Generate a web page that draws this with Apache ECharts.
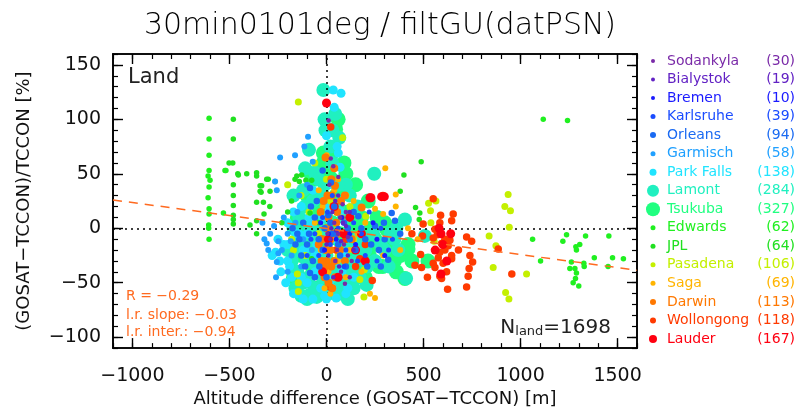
<!DOCTYPE html>
<html>
<head>
<meta charset="utf-8">
<script src="https://cdn.jsdelivr.net/npm/echarts@6/dist/echarts.min.js"></script>
<style>
  html, body { margin: 0; padding: 0; background: #fff; }
  #chart { width: 797px; height: 413px; }
</style>
</head>
<body>
<div id="chart"></div>
<script>
// stations and their counts (legend)
const stations = ['Sodankyla', 'Bialystok', 'Bremen', 'Karlsruhe', 'Orleans', 'Garmisch', 'Park Falls', 'Lamont',
  'Tsukuba', 'Edwards', 'JPL', 'Pasadena', 'Saga', 'Darwin', 'Wollongong', 'Lauder'];
const counts = [30, 19, 10, 39, 94, 58, 138, 284, 327, 62, 64, 106, 69, 113, 118, 167];

const xTicks = [-1000, -500, 0, 500, 1000, 1500];
const yTicks = [-100, -50, 0, 50, 100, 150];

// [altitude difference m, relative difference %]
const sodankyla = [[11,99],[22,64],[35,57],[61,47],[83,22],[40,5],[60,-5],[90,-15],[55,-20],[20,-10],[110,-8],[95,-51],
  [130,-30],[70,10],[45,-30],[15,40],[100,15],[75,-40],[5,-5],[120,-45]];
const bialystok = [[30,15],[50,-2],[75,-12],[100,2],[10,-25],[120,15],[65,-35],[85,5],[25,0],[140,-20],[0,-15],[45,25],
  [110,-25],[60,30],[35,-45]];
const bremen = [[-30,5],[10,-5],[50,-10],[80,10],[-10,-20],[120,-5],[260,-10],[300,-25],[240,5],[150,-15]];
const karlsruhe = [[-60,-5],[-20,10],[20,-15],[60,0],[100,-20],[140,5],[-40,-25],[5,15],[180,-5],[200,-25],[280,0],
  [320,-20],[220,15],[-80,-10],[30,30],[-100,-25],[90,-35],[160,-30],[260,-30],[340,-10]];
const orleans = [[-20,53],[-85,37],[23,42],[164,11],[250,2],[296,5],[336,14],[353,7],[318,-29],[-85,-41],[-37,-35],
  [-120,5],[-150,-5],[-100,-15],[-60,10],[-40,-10],[-10,0],[30,-5],[60,-15],[90,5],[120,-10],[150,-20],[180,0],
  [200,-10],[230,-15],[270,-20],[300,-10],[-130,-25],[-70,-30],[0,-45],[40,20],[-50,25],[100,-35],[140,15],
  [210,-35],[280,-35],[380,-5],[-160,-15],[-110,-35],[10,12],[-140,-10],[-90,-5],[-20,-20],[20,5],[70,-25],
  [-60,-45],[-175,0],[-80,20],[50,-5],[110,0]];
const garmisch = [[-95,84],[-114,75],[-162,67],[-239,65],[-71,61],[-265,43],[-256,35],[-248,-23],[-256,-31],[-308,-14],
  [-248,-12],[-184,-12],[-200,-5],[-160,5],[-220,10],[-180,-25],[-150,15],[-120,-10],[-290,-5],[-270,2],[-330,5],
  [-140,30],[-100,40],[-200,-40],[-260,-45],[-75,-20],[-130,-35],[-300,-20],[-320,-10],[-230,-20]];
const parkFalls = [[40,111],[35,127],[75,124],[61,69],[70,56],[-200,-30],[-150,-60],[-100,-50],[-180,-45],[-120,-20],
  [-60,-40],[0,-65],[30,-55],[80,-40],[-30,-55],[-220,-15],[-160,-5],[50,-30],[100,-60],[-90,10],[-130,20],
  [-190,-35],[-130,-45],[-70,-65],[-10,-62],[20,-48],[50,-64],[110,-55],[-200,5],[-170,15],[-140,-5],[-110,-20],
  [-80,5],[-50,-15],[-20,10],[10,20],[40,-10],[70,15],[-250,-10],[-235,-40],[-262,-22],[0,85],[55,75],[-70,35],[30,40],
  [-240,-30],[-210,-50],[-170,-60],[-120,-65],[-280,-25],[-60,-25],[-30,-20],[90,-25],[140,-45],[-100,-5],[-200,-15]];
const lamont = [[-16,127],[66,83],[-90,72],[-59,51],[246,50],[404,8],[410,-46],[207,-52],[-50,-63],[52,-61],[95,-61],
  [-85,-61],[-110,55],[-30,30],[0,10],[60,20],[120,30],[150,-30],[-20,-30],[20,-45],[80,-50],[-140,-15],[-170,30],
  [190,-15],[300,-20],[350,-10],[-60,-20],[100,40],[-10,100],[30,90],[-180,-30],[-150,-40],[-120,-50],[-90,-45],
  [-60,-55],[-30,-60],[10,-60],[40,-58],[70,-55],[100,-50],[130,-40],[-170,0],[-140,10],[-110,20],[-80,-10],[-40,0],
  [-10,40],[30,60],[60,40],[90,10],[120,-15],[160,-10],[200,-20],[240,-5],[280,-15],[330,-5],[370,-20],[-200,-20],
  [-130,-10],[-100,-30],[-50,-35],[0,-25],[40,-35],[80,-30],[-70,25],[20,75],[-5,90],[45,105],[507,-7],
  [-160,-55],[-130,-62],[-100,-65],[-20,-45],[60,-45],[110,-65],[140,-55],[-150,-20],[-90,0],[0,-5],[170,-45],
  [210,-35],[250,-30],[320,-35],[360,0],[-60,-8],[-120,35],[-40,45],[90,-20],[160,20]];
const tsukuba = [[47,91],[-16,69],[-13,61],[9,50],[27,45],[104,38],[70,36],[215,25],[310,-1],[-40,20],[20,0],[-10,-20],
  [60,-10],[130,0],[180,10],[250,-10],[400,-20],[-100,30],[-60,45],[90,60],[150,-25],[-30,-40],[350,-30],[420,-15],
  [270,-35],[-60,10],[-20,-5],[30,5],[70,-5],[110,15],[150,5],[190,-5],[230,0],[260,10],[300,5],[340,-10],[380,-25],
  [-90,-20],[-40,-30],[10,-35],[50,-45],[110,-30],[170,-35],[220,-25],[290,-35],[360,-40],[404,-46],[-110,0],[-80,50],
  [-30,55],[20,65],[60,100],[-20,30],[50,30],[100,50],[523,-30],[420,-19],
  [-130,-25],[-70,-40],[0,-50],[130,-50],[200,-45],[240,-15],[320,-20],[440,-30],[-150,10],[-50,-55],[80,-55],
  [150,40],[-170,-45]];
const edwards = [[-605,101],[-605,82],[-605,67],[-605,53],[-610,48],[-600,44],[-605,38],[-610,28],[-605,18],[-605,13],
  [-607,3],[-607,0],[-605,-10],[-531,14],[-523,53],[-518,53],[1117,100],[1242,99],[1218,-12],[1237,-6],[1285,-17],
  [1305,-15],[1288,-20],[1335,-7],[1455,-7],[1380,-27],[1474,-27],[1530,-28],[1451,-35],[1262,-31],[1254,-37],
  [1280,-37],[1326,-32],[1328,-35],[1288,-41],[1283,-46],[1271,-50],[1300,-53],[1062,-10],[1103,-30]];
const jpl = [[-480,100],[-480,82],[-502,60],[-483,60],[-480,40],[-480,30],[-480,21],[-480,12],[-480,8],[-480,4],
  [-457,50],[-411,50],[-394,3],[-360,51],[-360,48],[-360,24],[-360,7],[-360,-5],[-342,39],[-342,34],[-334,39],
  [-337,33],[-300,45],[-291,34],[-325,24],[-322,13],[-292,20],[-308,45],[-265,43],[-153,48],[-128,49],[-106,44],
  [-76,44],[-162,45],[-140,43],[-454,49],[488,61],[399,49],[380,34],[459,19],[481,14],[478,8],[-200,15],[-230,5],
  [-180,25],[-85,14],[-76,-28],[-40,5],[30,-20]];
const pasadena = [[-145,116],[83,83],[-131,30],[-150,-42],[-145,-50],[-145,-58],[195,-38],[172,-47],[193,-63],[100,30],
  [121,20],[202,11],[526,23],[564,25],[536,16],[538,5],[555,-12],[936,31],[919,20],[948,16],[942,1],[838,-7],
  [873,-16],[859,-36],[1031,-42],[923,-59],[940,-65],[-170,-20],[-90,15],[-40,-5],[20,25],[60,-25],[140,-10],
  [-60,60],[-200,40],[-180,-10],[0,45],[-110,-25]];
const saga = [[1,67],[303,55],[357,31],[357,20],[292,13],[250,18],[292,-25],[224,-60],[250,-64],[-20,20],[30,-10],
  [60,-30],[10,-40],[-30,-20],[80,10],[120,-20],[160,-5],[200,5],[-60,5],[0,0],[40,35],[100,-45],[140,25],
  [180,-40],[380,-20],[420,0],[470,-10],[-10,-55],[20,-60],[-40,35],[60,45]];
const darwin = [[44,39],[27,30],[95,30],[35,20],[181,19],[-11,-36],[0,0],[-20,-10],[20,-20],[40,-30],[-10,-45],
  [10,10],[50,5],[60,-5],[-30,15],[-40,-15],[10,-50],[30,-55],[70,-20],[100,-5],[0,-30],[-15,25],[25,45],[40,55],
  [-5,65],[95,-30],[130,-10],[15,-12],[55,15],[-5,-20],[25,-35],[45,-45],[5,30],[-25,-30],[35,-5],[75,25]];
const wollongong = [[22,93],[291,30],[550,27],[588,12],[653,13],[645,7],[498,4],[172,-28],[236,-48],[18,-54],
  [885,-19],[955,-42],[485,-24],[456,-34],[490,-36],[495,-7],[584,5],[559,-1],[571,-6],[550,-9],[610,-10],[636,-11],
  [593,-14],[627,-16],[610,-20],[584,-22],[645,-25],[576,-27],[550,-32],[601,-32],[559,-36],[619,-40],[584,-44],
  [593,-46],[624,-56],[645,-28],[722,-8],[748,-12],[739,-25],[753,-31],[735,-37],[730,-44],[722,-54],[100,-10],
  [50,-20],[150,-35],[200,-15],[-30,-10],[0,-40],[440,-5],[520,-45],[680,-20]];
const lauder = [[0,115],[224,28],[284,29],[298,29],[229,28],[10,-10],[60,-45],[90,-5],[150,-20],[-20,-40],[40,20],
  [120,10],[200,-30],[180,-5],[580,0],[600,-15],[620,-30],[560,-20],[590,-42],[640,-5],[590,-5]];

// regression line end points
const fitLine = [[-1100, 26], [1600, -38.5]];

const seriesData = [sodankyla, bialystok, bremen, karlsruhe, orleans, garmisch, parkFalls, lamont,
  tsukuba, edwards, jpl, pasadena, saga, darwin, wollongong, lauder];

const colors = ['#7a2aa8', '#6222c4', '#1a1aff', '#1a4cff', '#1a6af2', '#20a0ff', '#20e4ff', '#20f0c0',
  '#20ff80', '#20f020', '#20e020', '#c4f000', '#ffb400', '#ff7800', '#ff3a00', '#ff0010'];
const sizes = [4.5, 4.5, 5, 5, 6.5, 6, 9, 14, 15, 5.5, 5.5, 7, 6, 8, 7.5, 9];
const legendSizes = [4, 4, 4, 5, 6, 5, 7, 12, 14, 5, 5, 5, 5, 6, 6, 8];
const layer = [12, 12, 11, 11, 10, 9, 5, 4, 3, 8, 8, 7, 9, 9, 8, 9];

const minus = v => String(v).replace('-', '\u2212');

const font = 'DejaVu Sans';
const chart = echarts.init(document.getElementById('chart'));

const gridBox = { left: 113, right: 160, top: 54, bottom: 62 };
const axisLine = { show: true, onZero: false, lineStyle: { color: '#000', width: 1.6 } };

function xAx(pos, major, showLabel) {
  return {
    type: 'value', position: pos, min: -1100, max: 1600,
    interval: major ? undefined : 100,
    axisLine: axisLine,
    splitLine: { show: false },
    axisTick: major
      ? { show: true, inside: true, length: 10, customValues: xTicks, lineStyle: { color: '#000', width: 1.4 } }
      : { show: true, inside: true, length: 5, lineStyle: { color: '#000', width: 1.2 } },
    axisLabel: showLabel
      ? { show: true, customValues: xTicks, formatter: minus, fontFamily: font, fontSize: 19, color: '#111', margin: 18 }
      : { show: false },
    name: showLabel ? 'Altitude difference (GOSAT\u2212TCCON) [m]' : '',
    nameLocation: 'middle', nameGap: 40,
    nameTextStyle: { fontFamily: font, fontSize: 18, color: '#111' }
  };
}
function yAx(pos, major, showLabel) {
  return {
    type: 'value', position: pos, min: -110, max: 160,
    interval: major ? undefined : 10,
    axisLine: axisLine,
    splitLine: { show: false },
    axisTick: major
      ? { show: true, inside: true, length: 10, customValues: yTicks, lineStyle: { color: '#000', width: 1.4 } }
      : { show: true, inside: true, length: 5, lineStyle: { color: '#000', width: 1.2 } },
    axisLabel: showLabel
      ? { show: true, customValues: yTicks, formatter: minus, fontFamily: font, fontSize: 19, color: '#111', margin: 12 }
      : { show: false },
    name: showLabel ? '(GOSAT\u2212TCCON)/TCCON [%]' : '',
    nameLocation: 'middle', nameGap: 80, nameRotate: 90,
    nameTextStyle: { fontFamily: font, fontSize: 18, color: '#111' }
  };
}

const series = seriesData.map((d, i) => ({
  name: stations[i],
  type: 'scatter',
  data: d,
  symbolSize: sizes[i],
  z: layer[i],
  itemStyle: { color: colors[i], opacity: 1 },
  silent: true
}));

// zero lines
series.unshift({
  type: 'scatter', data: [], z: 1, silent: true,
  markLine: {
    silent: true, symbol: 'none', label: { show: false },
    lineStyle: { color: '#000', type: [2, 4], width: 1.5 },
    data: [{ xAxis: 0 }, { yAxis: 0 }]
  }
});
series.push({
  type: 'line', data: fitLine, z: 20, silent: true, symbol: 'none',
  lineStyle: { color: '#ff6a20', width: 1.5, type: [9, 7] }
});

// legend drawn as circles + text
const legendGraphics = [];
stations.forEach((s, i) => {
  const y = 61 + i * 18.53;
  legendGraphics.push({
    type: 'circle', shape: { cx: 653, cy: y, r: legendSizes[i] / 2 }, style: { fill: colors[i] }
  });
  legendGraphics.push({
    type: 'text', x: 667, y: y, style: { text: s, fill: colors[i], font: '14px ' + font, textVerticalAlign: 'middle' }
  });
  legendGraphics.push({
    type: 'text', x: 795, y: y, style: { text: '(' + counts[i] + ')', fill: colors[i], font: '14px ' + font,
      textAlign: 'right', textVerticalAlign: 'middle' }
  });
});

const option = {
  backgroundColor: '#fff',
  animation: false,
  title: {
    text: '30min0101deg / filtGU(datPSN)',
    left: 375, top: 6, textAlign: 'center',
    textStyle: { fontFamily: font, fontSize: 30, fontWeight: 200, color: '#000' }
  },
  grid: gridBox,
  xAxis: [xAx('bottom', true, true), xAx('bottom', false, false), xAx('top', true, false), xAx('top', false, false)],
  yAxis: [yAx('left', true, true), yAx('left', false, false), yAx('right', true, false), yAx('right', false, false)],
  series: series,
  graphic: legendGraphics.concat([
    { type: 'text', x: 128, y: 78, style: { text: 'Land', fill: '#222', font: '21px ' + font, textVerticalAlign: 'middle' } },
    { type: 'text', x: 126, y: 296, style: { text: 'R = \u22120.29', fill: '#ff6a20', font: '14px ' + font, textVerticalAlign: 'middle' } },
    { type: 'text', x: 126, y: 315, style: { text: 'l.r. slope: \u22120.03', fill: '#ff6a20', font: '14px ' + font, textVerticalAlign: 'middle' } },
    { type: 'text', x: 126, y: 332, style: { text: 'l.r. inter.: \u22120.94', fill: '#ff6a20', font: '14px ' + font, textVerticalAlign: 'middle' } },
    { type: 'text', right: 186, top: 318, style: {
      text: '{n|N}{s|land}{n|=1698}',
      rich: {
        n: { fontFamily: font, fontSize: 20, fill: '#222', color: '#222' },
        s: { fontFamily: font, fontSize: 13, fill: '#222', color: '#222', verticalAlign: 'bottom', padding: [8, 0, 0, 0] }
      }
    } }
  ])
};

// all series on main axes
option.series.forEach(s => { s.xAxisIndex = 0; s.yAxisIndex = 0; });

chart.setOption(option);
</script>
</body>
</html>
